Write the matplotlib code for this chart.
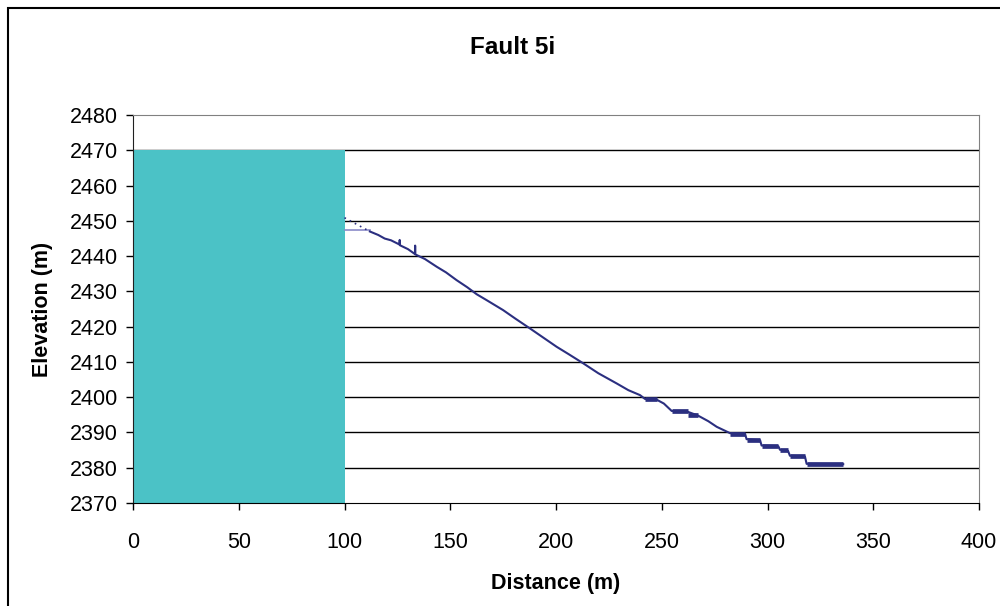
import matplotlib.pyplot as plt
from matplotlib.patches import Rectangle

plt.rcParams['font.family'] = ['Liberation Sans', 'DejaVu Sans']

# Fault scarp profile (distance m, elevation m)
head_x = [100, 104, 108, 112]
head_y = [2450.9, 2449.6, 2448.3, 2447.0]

profile_x = [112, 116, 119, 122, 126, 126.1, 126.2, 130, 133.3, 133.4, 133.5, 138, 143.6,
             148, 153, 158, 162.5, 167, 175, 181, 187.7, 194, 200.3, 206, 212.9, 220,
             228.7, 234.2, 239.7, 242.1, 247.6, 251, 254.7, 262.6, 267.1, 272, 276, 282.3,
             289.4, 290.1, 296.5, 297.2, 305.1, 305.9, 309.7, 310.6, 317.7, 318.5, 335.8]
profile_y = [2447.0, 2446.0, 2445.0, 2444.5, 2443.3, 2444.6, 2443.1, 2442.0, 2440.6, 2443.0,
             2440.5, 2439.2, 2437.0, 2435.4, 2433.2, 2431.2, 2429.2, 2427.6, 2424.7, 2422.2,
             2419.5, 2416.9, 2414.3, 2412.2, 2409.6, 2406.8, 2403.9, 2402.0, 2400.6, 2399.5,
             2399.3, 2398.2, 2396.1, 2395.8, 2394.8, 2393.2, 2391.6, 2389.8, 2389.6, 2388.1,
             2387.8, 2386.3, 2386.1, 2385.1, 2384.8, 2383.4, 2383.2, 2381.1, 2381.0]

# flat benches where many points overlap
bench_start = [242.1, 254.7, 262.6, 282.3, 290.1, 297.2, 305.9, 310.6, 318.5]
bench_end = [247.6, 262.6, 267.1, 289.4, 296.5, 305.1, 309.7, 317.7, 335.8]
bench_y = [2399.4, 2396.0, 2395.0, 2389.7, 2388.0, 2386.2, 2385.0, 2383.3, 2381.0]

# short reference line at the top of the scarp
ref_x = [100, 112]
ref_y = [2447.4, 2447.4]

# block (teal) from 0 to 100 m
block_left = 0
block_width = 100
block_top = 2470

y_min, y_max = 2370, 2480
x_min, x_max = 0, 400

fig = plt.figure(figsize=(10, 6.06), dpi=100)
ax = fig.add_axes([0.133, 0.170, 0.846, 0.640])

ax.set_xlim(x_min, x_max)
ax.set_ylim(y_min, y_max)
ax.set_xticks(range(0, 401, 50))
ax.set_yticks(range(2370, 2481, 10))

for yv in range(2380, 2471, 10):
    ax.axhline(yv, color='black', lw=1, zorder=1)

ax.bar(block_left, block_top - y_min, width=block_width, bottom=y_min, align='edge',
       color='#4bc2c6', zorder=2)

ax.plot(ref_x, ref_y, color='#8a8ac8', lw=1.2, zorder=3)
ax.plot(head_x, head_y, color='#2b2f80', lw=1.2, ls=(0, (1, 2.5)), zorder=4)
ax.plot(profile_x, profile_y, color='#2b2f80', lw=1.5, zorder=4)
ax.hlines(bench_y, bench_start, bench_end, color='#2b2f80', lw=3.4, zorder=4)

ax.spines['top'].set_color('#808080')
ax.spines['right'].set_color('#808080')
ax.spines['left'].set_color('#202020')
ax.spines['bottom'].set_color('black')
ax.tick_params(direction='out', length=5, width=1, labelsize=15.5, colors='black')
ax.tick_params(axis='x', pad=16)
ax.tick_params(axis='y', pad=6)

fig.text(0.513, 0.922, 'Fault 5i', fontsize=17.5, fontweight='bold', ha='center', va='center')
ax.set_xlabel('Distance (m)', fontsize=15.5, fontweight='bold', labelpad=14)
ax.set_ylabel('Elevation (m)', fontsize=15.5, fontweight='bold', labelpad=12)

# outer chart border
fig.patches.append(Rectangle((0.008, -0.05), 1.2, 0.037 + 1.0, transform=fig.transFigure,
                             fill=False, edgecolor='black', lw=1.5))

fig.savefig('out.png', dpi=100)
